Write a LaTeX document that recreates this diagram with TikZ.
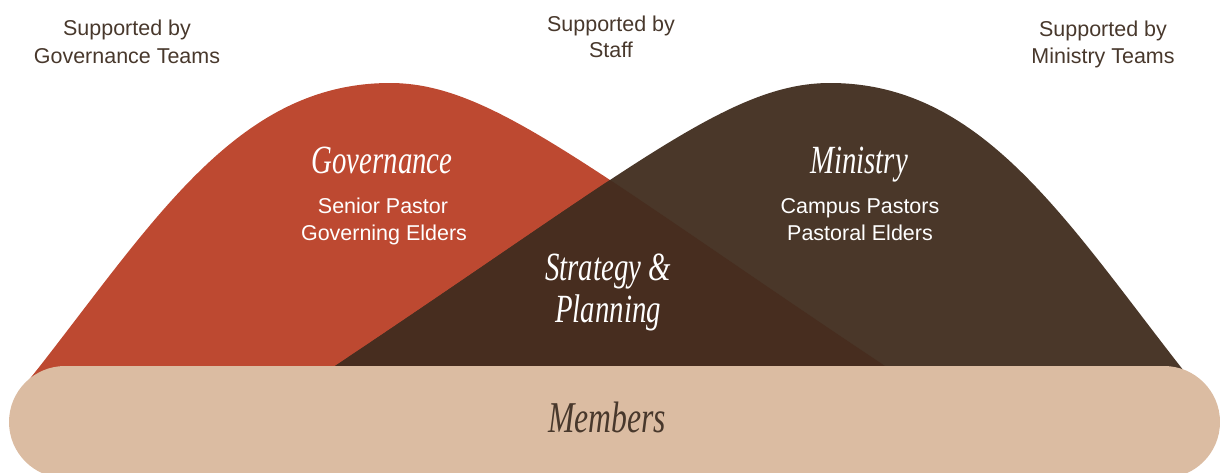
\documentclass[tikz,border=0pt]{standalone}
\usepackage{fontspec}
\setsansfont{Liberation Sans}
\newfontfamily\displayfont{Liberation Serif}
\definecolor{govred}{RGB}{189,73,49}
\definecolor{minbrown}{RGB}{74,55,41}
\definecolor{mixbrown}{RGB}{71,45,31}
\definecolor{membertan}{RGB}{219,188,162}
\definecolor{inkbrown}{RGB}{72,56,44}
\newcommand{\narrowit}[1]{\scalebox{0.72}[1]{#1}}
\tikzset{
    support/.style = {anchor=base, inner sep=0pt, text=inkbrown, font=\sffamily\fontsize{16.1}{18}\selectfont},
    role/.style = {anchor=base, inner sep=0pt, text=white, font=\sffamily\fontsize{16.1}{18}\selectfont},
    title/.style = {anchor=base, inner sep=0pt, text=white, font=\displayfont\itshape\fontsize{30}{36}\selectfont},
    members/.style = {title, text=inkbrown, font=\displayfont\itshape\fontsize{33}{40}\selectfont}
}
\begin{document}
\begin{tikzpicture}[x=0.75pt, y=-0.75pt]
    \useasboundingbox (0,0) rectangle (1220,472);
    \clip (0,0) rectangle (1220,472);
    % the two humps
    \fill[govred, save path=\govshape] (24,386) -- (40,366) .. controls (157,216) and (240,83) .. (390,83)
        .. controls (490,83) and (585,166) .. (885,366) -- (915,386) -- cycle;
    \fill[minbrown, save path=\minshape] (1196,386) -- (1180,366) .. controls (1063,216) and (980,83) .. (830,83)
        .. controls (730,83) and (635,166) .. (335,366) -- (305,386) -- cycle;
    \begin{scope}
        \clip[use path=\govshape];
        \fill[mixbrown, use path=\minshape];
    \end{scope}
    % members bar
    \fill[membertan, rounded corners=42pt] (9,366) rectangle (1220,478);

    \node[support] (gov-sup) at (127,35) {Supported by};
    \node[support] (gov-team) at (127,63) {Governance Teams};
    \node[support] (staff-sup) at (611,31) {Supported by};
    \node[support] (staff-team) at (611,57) {Staff};
    \node[support] (min-sup) at (1103,36) {Supported by};
    \node[support] (min-team) at (1103,63) {Ministry Teams};

    \node[title] (gov) at (382,173) {\narrowit{Governance}};
    \node[role] (gov-r1) at (383,213) {Senior Pastor};
    \node[role] (gov-r2) at (384,240) {Governing Elders};
    \node[title] (min) at (859,173) {\narrowit{Ministry}};
    \node[role] (min-r1) at (860,213) {Campus Pastors};
    \node[role] (min-r2) at (860,240) {Pastoral Elders};
    \node[title] (strat) at (608,280) {\narrowit{Strategy \&}};
    \node[title] (plan) at (608,322) {\narrowit{Planning}};
    \node[members] (memb) at (607,432) {\narrowit{Members}};
\end{tikzpicture}
\end{document}
